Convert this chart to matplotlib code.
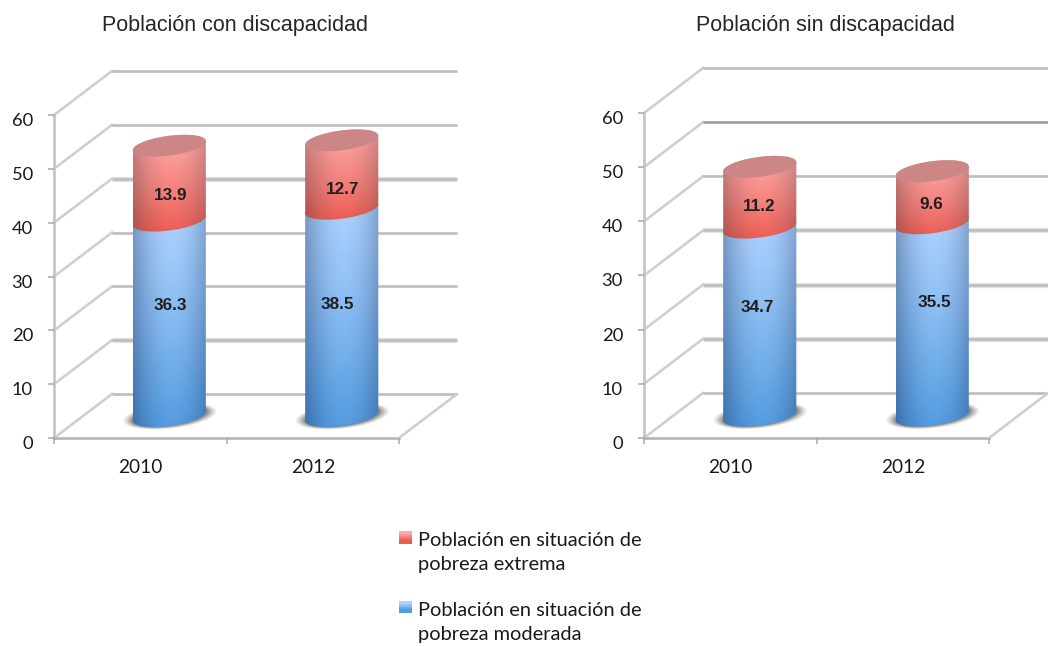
import numpy as np
import matplotlib
matplotlib.use('Agg')
import matplotlib.pyplot as plt
from matplotlib.path import Path
from matplotlib.patches import PathPatch
from matplotlib.transforms import Affine2D

W, H = 1048, 646

titles = ['Población con discapacidad', 'Población sin discapacidad']
years = ['2010', '2012']
yticks = [0, 10, 20, 30, 40, 50, 60]

moderada_con = [36.3, 38.5]
extrema_con = [13.9, 12.7]
moderada_sin = [34.7, 35.5]
extrema_sin = [11.2, 9.6]

legend_labels = ['Población en situación de\npobreza extrema',
                 'Población en situación de\npobreza moderada']

# colores del degradado: (centro arriba, borde arriba, centro abajo, borde abajo)
blue = ('#aed3ff', '#7f9fca', '#529be0', '#3b74b2')
red = ('#ffa9a8', '#c98787', '#ea5b52', '#b64f49')
cap_col = '#cc8686'

BW = 0.212     # medio ancho del cilindro, unidades de categoria
EH = 1.85      # semi-alto de la elipse, unidades de y
TILT = 0.85    # inclinacion de la elipse, unidades de y


def make_grad(cols, n=64):
    mid_t, edge_t, mid_b, edge_b = [np.array(matplotlib.colors.to_rgb(c)) for c in cols]
    xx = np.linspace(-1, 1, n)
    s = np.abs(xx - 0.05) ** 1.9
    v = (np.linspace(0, 1, n) ** 1.2)[:, None, None]
    s = s[None, :, None]
    top = mid_t + (edge_t - mid_t) * s
    bot = mid_b + (edge_b - mid_b) * s
    return np.clip(top * (1 - v) + bot * v, 0, 1)


def arc(x, y, t):
    return np.column_stack([x + BW * np.cos(t), y + EH * np.sin(t) + TILT * np.cos(t)])


def body_path(x, y0, y1):
    low = arc(x, y0, np.linspace(np.pi, 2 * np.pi, 40))
    up = arc(x, y1, np.linspace(0, np.pi, 40))
    return Path(np.vstack([low, up, low[:1]]), closed=True)


def ellipse_path(x, y, scale=1.0, dx=0.0):
    t = np.linspace(0, 2 * np.pi, 80)
    return Path(np.column_stack([x + dx + scale * BW * np.cos(t),
                                 y + scale * EH * np.sin(t) + TILT * np.cos(t)]), closed=True)


def segment(ax, tr, x, y0, y1, cols, z):
    im = ax.imshow(make_grad(cols), origin='upper', aspect='auto', interpolation='bilinear',
                   extent=(x - BW, x + BW, y0 - EH - TILT, y1 + EH + TILT), zorder=z)
    im.set_transform(tr)
    patch = PathPatch(body_path(x, y0, y1), transform=tr, fc='none', ec='none')
    ax.add_patch(patch)
    im.set_clip_path(patch)
    im.set_clip_on(True)


def draw_panel(rect, depth, title, title_xy, moderada, extrema, lab_mod, lab_ext, dark_lines, wide_lines):
    x0, x1, ytop, ybot = rect
    dx, dy = depth
    ax = fig.add_axes([x0 / W, 1 - ybot / H, (x1 - x0) / W, (ybot - ytop) / H])
    ax.set_xlim(-0.5, 1.5)
    ax.set_ylim(0, 60)
    ax.patch.set_alpha(0)
    for s in ax.spines.values():
        s.set_visible(False)

    back = ax.transData + Affine2D().translate(dx, dy)
    mid = ax.transData + Affine2D().translate(dx / 2, dy / 2)

    # paredes
    for v in yticks:
        col, lw = '#bdbdbd', 1.9
        if v in dark_lines:
            col, lw = '#9c9c9c', 1.9
        if v in wide_lines:
            ax.plot([-0.5, 1.5], [v, v], color='#e2e2e2', lw=3.8, transform=back, clip_on=False,
                    solid_capstyle='butt', zorder=1)
        ax.plot([-0.5, 1.5], [v, v], color=col, lw=lw, transform=back, clip_on=False,
                solid_capstyle='butt', zorder=1.1)
        # linea diagonal de la pared lateral
        p0 = ax.transData.transform((-0.5, v))
        ax.plot([p0[0], p0[0] + dx], [p0[1], p0[1] + dy], color='#cfcfcf', lw=1.9,
                transform=None, clip_on=False, zorder=1)
    ax.plot([-0.5, -0.5], [0, 60], color='#c4c4c4', lw=1.9, clip_on=False, zorder=1.2)
    ax.plot([-0.5, 1.5], [0, 0], color='#b5b5b5', lw=1.9, clip_on=False, zorder=1.2)
    pr = ax.transData.transform((1.5, 0))
    ax.plot([pr[0], pr[0] + dx], [pr[1], pr[1] + dy], color='#cfcfcf', lw=1.9,
            transform=None, clip_on=False, zorder=1.2)

    ax.set_yticks(yticks)
    ax.set_xticks([-0.5, 0.5, 1.5])
    ax.set_xticklabels([])
    ax.tick_params(axis='both', color='#a8a8a8', width=1.1, length=4.3, labelsize=13.2,
                   labelcolor='#1a1a1a', labelfontfamily='Lato')
    ax.tick_params(axis='y', pad=10.8)
    for lab in ax.yaxis.get_majorticklabels():
        lab.set_transform(lab.get_transform() + Affine2D().translate(0, -4.5))
    for i, yr in enumerate(years):
        ax.annotate(yr, (i, 0), xytext=(0, -35), textcoords='offset pixels', ha='center', va='baseline',
                    fontsize=13.8, family='Lato', color='#1a1a1a', annotation_clip=False)

    fig.text(title_xy[0] / W, 1 - title_xy[1] / H, title, fontsize=15.5, family='Liberation Sans',
             color='#262626', ha='center', va='center')

    # cilindros
    for i in range(len(years)):
        a, b = moderada[i], extrema[i]
        for sc, al in zip([1.27, 1.21, 1.15, 1.09, 1.04], [0.10, 0.14, 0.2, 0.26, 0.32]):
            ax.add_patch(PathPatch(ellipse_path(i, 0, sc, 0.003), transform=mid, fc='#555555', ec='none',
                                   alpha=al, zorder=2, clip_on=False))
        segment(ax, mid, i, 0, a, blue, 3)
        segment(ax, mid, i, a, a + b, red, 4)
        ax.add_patch(PathPatch(ellipse_path(i, a + b), transform=mid, fc=cap_col, ec='none', zorder=5,
                               clip_on=False))
        for base, val, off in zip([a / 2, a + b / 2], [a, b], [lab_mod[i], lab_ext[i]]):
            ax.annotate('%.1f' % val, (i, base), xycoords=mid, xytext=off, textcoords='offset pixels',
                        ha='center', va='center', fontsize=12.3, fontweight='bold',
                        family='Liberation Sans', color='#1f1f1f', zorder=6, annotation_clip=False)
    ax.set_xlim(-0.5, 1.5)
    ax.set_ylim(0, 60)
    return ax


fig = plt.figure(figsize=(W / 100, H / 100), dpi=100)

draw_panel((54, 399, 115, 438), (58, 44), titles[0], (235, 26), moderada_con, extrema_con,
           [(1, 13), (-4, 8)], [(1, -12), (1, -15)], [], [40, 10])
draw_panel((644, 989, 113, 438), (59, 45), titles[1], (825, 26), moderada_sin, extrema_sin,
           [(-2, 14), (2, 17)], [(-1, -9), (-1, -7)], [50], [20, 30, 10])

# leyenda
for col, y, lab in zip([red, blue], [537, 607], legend_labels):
    lax = fig.add_axes([399 / W, 1 - (y + 6.5) / H, 13 / W, 13 / H])
    lax.imshow(np.array([[matplotlib.colors.to_rgb(col[0])], [matplotlib.colors.to_rgb(col[2])]]),
               aspect='auto', interpolation='bilinear')
    lax.axis('off')
    fig.text(418 / W, 1 - (y + 15.5) / H, lab, fontsize=14.4, family='Lato', color='#1a1a1a',
             ha='left', va='center', linespacing=1.48)

fig.savefig('out.png', dpi=100)
